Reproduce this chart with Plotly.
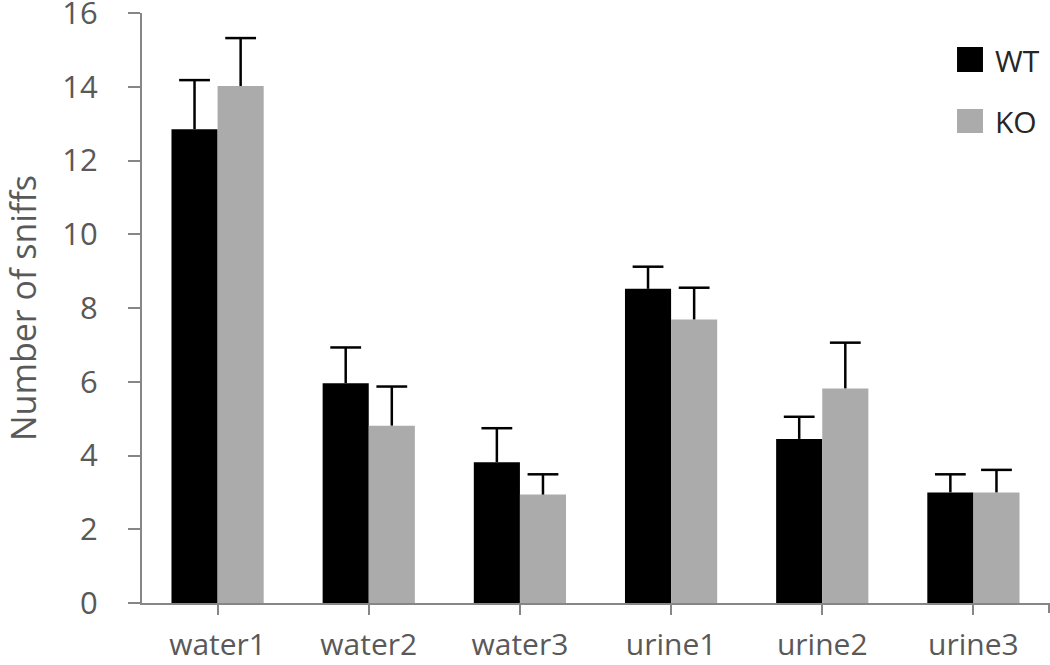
import plotly.graph_objects as go

categories = ["water1", "water2", "water3", "urine1", "urine2", "urine3"]
series_names = ["WT", "KO"]
wt_values = [12.85, 5.96, 3.82, 8.52, 4.45, 3.00]
wt_errors = [1.33, 0.97, 0.92, 0.60, 0.60, 0.49]
ko_values = [14.02, 4.81, 2.94, 7.69, 5.82, 3.00]
ko_errors = [1.30, 1.06, 0.55, 0.86, 1.24, 0.61]
y_ticks = [0, 2, 4, 6, 8, 10, 12, 14, 16]

colors = ["#000000", "#ababab"]
FONT = "Open Sans"
GRAY = "#595959"
AXIS = "#868686"
GAP = 0.39

fig = go.Figure()
series = [
    (series_names[0], wt_values, wt_errors, colors[0]),
    (series_names[1], ko_values, ko_errors, colors[1]),
]
for name, vals, errs, col in series:
    fig.add_trace(go.Bar(
        x=categories, y=vals, name=name, offsetgroup=name,
        marker=dict(color=col, line=dict(width=0)),
        showlegend=False,
    ))
# error bars (upper only): stem + cap, grouped like the bars
for name, vals, errs, col in series:
    tops = [v + e for v, e in zip(vals, errs)]
    fig.add_trace(go.Scatter(
        x=categories, y=tops, name=name + " SEM", offsetgroup=name,
        mode="markers",
        marker=dict(symbol="line-ew-open", size=22, color="#000000",
                    line=dict(color="#000000", width=2.5)),
        error_y=dict(type="data", symmetric=False, array=[0] * len(errs),
                     arrayminus=errs, color="#000000", thickness=2.5, width=0),
        showlegend=False, hoverinfo="skip",
    ))

fig.update_layout(
    width=1050, height=665,
    margin=dict(l=142, r=1, t=13, b=62, autoexpand=False),
    paper_bgcolor="white", plot_bgcolor="white",
    barmode="group", bargap=GAP, bargroupgap=0,
    scattermode="group", scattergap=GAP,
    font=dict(family=FONT, size=30, color=GRAY),
)
fig.update_xaxes(
    type="category", showline=True, linecolor=AXIS, linewidth=2,
    ticks="outside", ticklen=10, tickwidth=2, tickcolor=AXIS,
    tickfont=dict(family=FONT, size=30, color=GRAY),
    ticklabelstandoff=4, showgrid=False, zeroline=False,
)
fig.update_yaxes(
    range=[0, 16], tickvals=y_ticks, showline=True, linecolor=AXIS,
    linewidth=2, ticks="outside", ticklen=12, tickwidth=2, tickcolor=AXIS,
    tickfont=dict(family=FONT, size=31, color=GRAY),
    ticklabelstandoff=24, ticklabeloverflow="allow",
    showgrid=False, zeroline=False,
    title=dict(text="Number of sniffs", font=dict(family=FONT, size=34, color=GRAY),
               standoff=32),
)

# extra tick mark at the right end of the category axis
fig.add_shape(type="line", xref="paper", yref="paper", x0=1, x1=1,
              ysizemode="pixel", yanchor=0, y0=0, y1=-10,
              line=dict(color=AXIS, width=2))

# legend drawn as squares + labels
legend_rows = [(0.9, 0.9424, 0.9203), (0.7966, 0.8373, 0.8169)]
for (y0, y1, yt), name, col in zip(legend_rows, series_names, colors):
    fig.add_shape(type="rect", xref="paper", yref="paper",
                  x0=0.8986, x1=0.9272, y0=y0, y1=y1,
                  fillcolor=col, line=dict(width=0))
    fig.add_annotation(text=name, xref="paper", yref="paper", x=0.9383, y=yt,
                       xanchor="left", yanchor="middle", showarrow=False,
                       font=dict(family=FONT, size=30, color="#262626"))

fig.write_html("out.html", config={"displayModeBar": False})
with open("out.html", "r", encoding="utf-8") as f:
    html = f.read()
html = html.replace("<body>", '<body style="margin:0;padding:0;overflow:hidden">', 1)
with open("out.html", "w", encoding="utf-8") as f:
    f.write(html)
